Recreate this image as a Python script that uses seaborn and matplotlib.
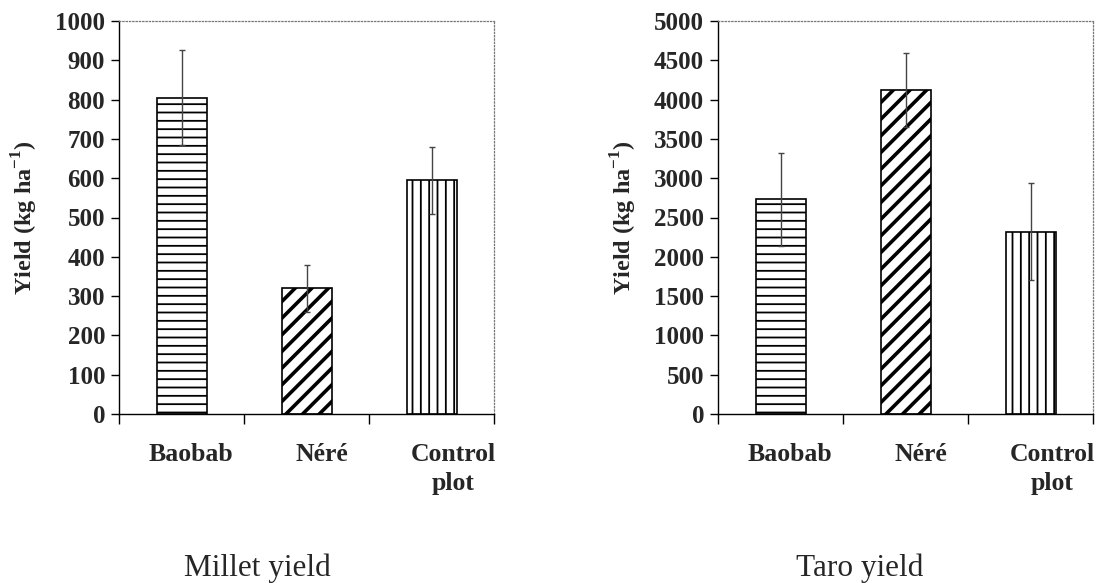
import matplotlib
matplotlib.use("Agg")
import matplotlib.pyplot as plt
import matplotlib.transforms as mtrans
import seaborn as sns
import pandas as pd

categories = ["Baobab", "Néré", "Control\nplot"]
millet_yield = [805, 320, 595]
millet_err = [120, 60, 85]
taro_yield = [2730, 4120, 2320]
taro_err = [590, 470, 620]
hatches = ["--", "//", "||"]

sns.set_style("white")
plt.rcParams['font.family'] = ['Liberation Serif', 'DejaVu Serif']
plt.rcParams['hatch.linewidth'] = 1.3
plt.rcParams['mathtext.fontset'] = 'custom'
plt.rcParams['mathtext.rm'] = 'Liberation Serif'
plt.rcParams['mathtext.bf'] = 'Liberation Serif:bold'

fig = plt.figure(figsize=(11.07, 5.83), dpi=100)
ax1 = fig.add_axes([119/1107, 1-414/583, 375/1107, 393/583])
ax2 = fig.add_axes([718/1107, 1-414/583, 375/1107, 393/583])

label_offsets = [9, 15, 22]

def draw(ax, vals, errs, ymax, step, title, tx):
    df = pd.DataFrame({"cat": categories, "val": vals})
    sns.barplot(data=df, x="cat", y="val", ax=ax, color="white",
                edgecolor="black", linewidth=1.2, width=0.4, errorbar=None,
                saturation=1)
    for p, h in zip(ax.patches, hatches):
        p.set_hatch(h)
        p.set_facecolor("white")
        p.set_edgecolor("black")
        if h == "//" and hasattr(p, "set_hatch_linewidth"):
            p.set_hatch_linewidth(2.6)
    ax.errorbar(range(len(vals)), vals, yerr=errs, fmt="none", ecolor="#444444",
                elinewidth=1.0, capsize=2.5, capthick=1.0, zorder=5)
    ax.set_xlim(-0.5, 2.5)
    ax.set_ylim(0, ymax)
    ax.set_yticks(range(0, ymax + 1, step))
    ax.set_yticklabels([str(v) for v in range(0, ymax + 1, step)],
                       fontsize=18, fontweight="bold")
    ax.set_xticks([-0.5, 0.5, 1.5, 2.5])
    ax.set_xticklabels([])
    ax.set_xticks([0, 1, 2], minor=True)
    ax.set_xticklabels(categories, minor=True, fontsize=18.5, fontweight="bold",
                       linespacing=1.35)
    ax.tick_params(axis="x", which="major", direction="out", length=7,
                   width=1, color="black", bottom=True)
    ax.tick_params(axis="x", which="minor", length=0, pad=21)
    ax.tick_params(axis="y", direction="out", length=6, width=1,
                   color="black", left=True, pad=4)
    for lab, off in zip(ax.get_xticklabels(minor=True), label_offsets):
        lab.set_transform(lab.get_transform() +
                          mtrans.ScaledTranslation(off/100, 0, fig.dpi_scale_trans))
    ax.set_xlabel("")
    ax.set_ylabel(r"Yield (kg ha$^{\mathbf{-1}}$)", fontsize=17.5,
                  fontweight="bold", labelpad=11)
    for s in ["left", "bottom"]:
        ax.spines[s].set_color("black")
        ax.spines[s].set_linewidth(1.0)
    for s in ["top", "right"]:
        ax.spines[s].set_color("#777777")
        ax.spines[s].set_linestyle(":")
        ax.spines[s].set_linewidth(0.9)
    fig.text(tx/1107, 1-568/583, title, ha="center", va="center",
             fontsize=22.5, family=['Liberation Serif'])

draw(ax1, millet_yield, millet_err, 1000, 100, "Millet yield", 257)
draw(ax2, taro_yield, taro_err, 5000, 500, "Taro yield", 860)

fig.savefig("out.png", dpi=100, facecolor="white")
